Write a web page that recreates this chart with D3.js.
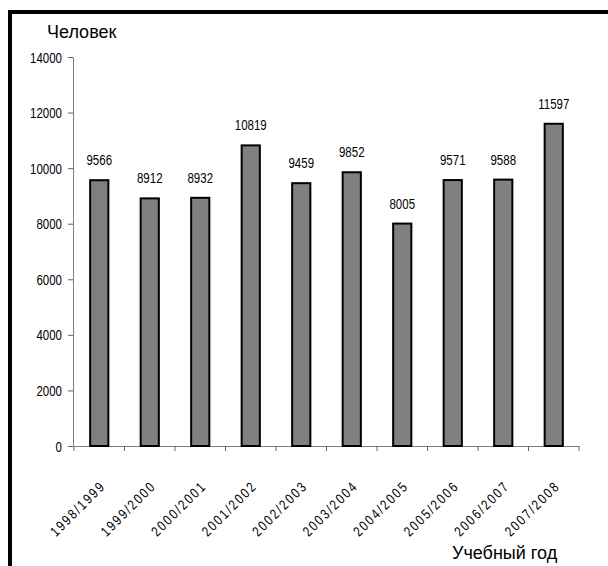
<!DOCTYPE html>
<html>
<head>
<meta charset="utf-8">
<script src="https://cdn.jsdelivr.net/npm/d3@7"></script>
<style>
  body { margin: 0; background: #fff; }
  svg { display: block; }
  .num { font-family: 'Liberation Sans', Arial, sans-serif; font-size: 14px; fill: #000; }
  .ttl { font-family: 'Liberation Sans', Arial, sans-serif; font-size: 18px; fill: #000; }
</style>
</head>
<body>
<script>
// data
const years = ['1998/1999', '1999/2000', '2000/2001', '2001/2002', '2002/2003',
  '2003/2004', '2004/2005', '2005/2006', '2006/2007', '2007/2008'];
const people = [9566, 8912, 8932, 10819, 9459, 9852, 8005, 9571, 9588, 11597];
const yTicks = [0, 2000, 4000, 6000, 8000, 10000, 12000, 14000];

const W = 608;
const H = 566;
const narrow = 0.82; // squeeze digits like Arial Narrow

const svg = d3.select('body')
  .append('svg')
  .attr('width', W)
  .attr('height', H);

// frame (only top and left edges are inside the picture)
svg.append('rect')
  .attr('x', 10)
  .attr('y', 12)
  .attr('width', W + 20)
  .attr('height', H + 20)
  .attr('fill', 'none')
  .attr('stroke', '#000')
  .attr('stroke-width', 4);

// scales
const x = d3.scaleBand()
  .domain(years)
  .range([74, 579])
  .paddingInner(0.64)
  .paddingOuter(0.32);

const y = d3.scaleLinear()
  .domain([0, 14000])
  .range([446, 57]);

// x axis
const xAxis = svg.append('g')
  .attr('transform', 'translate(0,446)')
  .call(d3.axisBottom(x).tickSize(0).tickFormat(''));
xAxis.select('.domain').attr('stroke', '#808080');

// category boundary ticks
const step = x.step();
const bounds = d3.range(years.length + 1).map(i => 74 + i * step);
svg.append('g')
  .selectAll('line')
  .data(bounds)
  .enter()
  .append('line')
  .attr('x1', d => d)
  .attr('x2', d => d)
  .attr('y1', 446)
  .attr('y2', 451)
  .attr('stroke', '#606060');

// rotated category labels
svg.append('g')
  .selectAll('text')
  .data(years)
  .enter()
  .append('text')
  .attr('class', 'num')
  .attr('text-anchor', 'end')
  .style('letter-spacing', '2.3px')
  .attr('transform', d => `translate(${x(d) + x.bandwidth() / 2 + 7},${487}) rotate(-45) scale(${narrow},1)`)
  .text(d => d);

// y axis
const yAxis = svg.append('g')
  .attr('transform', 'translate(73,0)')
  .call(d3.axisLeft(y).tickValues(yTicks).tickSize(5).tickPadding(6).tickFormat(d3.format('d')));
yAxis.select('.domain').attr('stroke', '#808080');
yAxis.selectAll('.tick line').attr('stroke', '#606060');
yAxis.selectAll('.tick text')
  .attr('class', 'num')
  .attr('fill', '#000')
  .attr('x', null)
  .attr('dy', null)
  .attr('transform', `translate(-11,5) scale(${narrow},1)`);

// bars
svg.append('g')
  .selectAll('rect')
  .data(people)
  .enter()
  .append('rect')
  .attr('x', (d, i) => x(years[i]))
  .attr('y', d => y(d))
  .attr('width', x.bandwidth())
  .attr('height', d => 446 - y(d))
  .attr('fill', '#808080')
  .attr('stroke', '#000')
  .attr('stroke-width', 2);

// value labels
svg.append('g')
  .selectAll('text')
  .data(people)
  .enter()
  .append('text')
  .attr('class', 'num')
  .attr('text-anchor', 'middle')
  .attr('transform', (d, i) => `translate(${x(years[i]) + x.bandwidth() / 2},${y(d) - 15}) scale(${narrow},1)`)
  .text(d => d);

// axis titles
svg.append('text')
  .attr('class', 'ttl')
  .attr('x', 47)
  .attr('y', 38)
  .text('Человек');

svg.append('text')
  .attr('class', 'ttl')
  .attr('x', 452)
  .attr('y', 559)
  .text('Учебный год');
</script>
</body>
</html>
